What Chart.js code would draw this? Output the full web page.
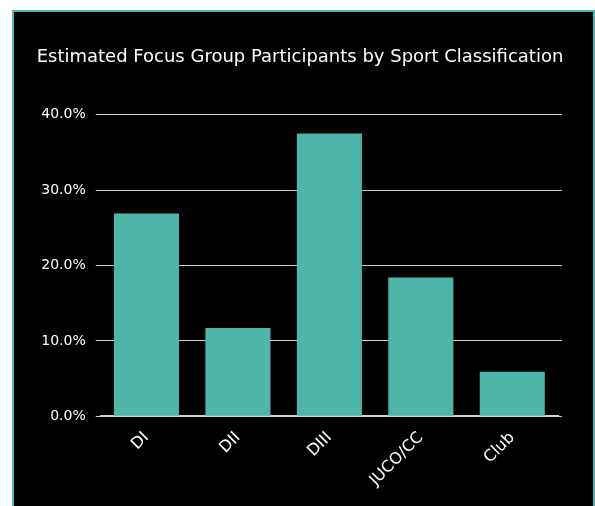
<!DOCTYPE html>
<html>
<head>
<meta charset="utf-8">
<script src="https://cdn.jsdelivr.net/npm/chart.js@4"></script>
<style>
  html, body { margin: 0; padding: 0; background: #ffffff; width: 595px; height: 506px; overflow: hidden; }
  #panel { position: absolute; left: 12px; top: 10px; width: 579px; height: 510px; background: #000; border: 2px solid #4DB6A7; }
  #wrap { position: absolute; left: 0; top: 0; width: 579px; height: 494px; }
</style>
</head>
<body>
<div id="panel"><div id="wrap"><canvas id="c"></canvas></div></div>
<script>
const categories = ["DI", "DII", "DIII", "JUCO/CC", "Club"];
const participantShare = [26.9, 11.7, 37.5, 18.4, 5.9];
const yTickValues = [0, 10, 20, 30, 40];
const chartTitle = "Estimated Focus Group Participants by Sport Classification";

const TITLE_FONT = "'DejaVu Sans', sans-serif";
const TICK_FONT = "'DejaVu Sans', sans-serif";
const GRID = "#cfcfcf";

const gridExtend = {
  id: 'gridExtend',
  afterDraw(chart) {
    const y = chart.scales.y, ctx = chart.ctx, r = chart.chartArea.right;
    ctx.save();
    ctx.strokeStyle = GRID;
    ctx.lineWidth = 1;
    y.ticks.forEach(t => {
      const py = Math.round(y.getPixelForValue(t.value) - 0.5) + 0.5;
      ctx.beginPath();
      ctx.moveTo(r - 1, py);
      ctx.lineTo(r + 4, py);
      ctx.stroke();
    });
    ctx.restore();
  }
};

new Chart(document.getElementById('c'), {
  type: 'bar',
  data: {
    labels: categories,
    datasets: [{
      data: participantShare,
      backgroundColor: '#4DB6A7',
      borderWidth: 0,
      categoryPercentage: 0.8,
      barPercentage: 0.89
    }]
  },
  options: {
    responsive: true,
    maintainAspectRatio: false,
    animation: false,
    layout: { padding: { left: 0, right: 7, top: 0, bottom: 0 } },
    plugins: {
      legend: { display: false },
      tooltip: { enabled: false },
      title: {
        display: true,
        text: chartTitle,
        color: '#ffffff',
        font: { family: TITLE_FONT, size: 18, weight: 'normal' },
        padding: { top: 35, bottom: 46 }
      }
    },
    scales: {
      x: {
        grid: { display: false },
        border: { display: true, color: GRID, width: 2 },
        ticks: {
          color: '#ffffff',
          font: { family: TICK_FONT, size: 16 },
          minRotation: 45,
          maxRotation: 45,
          padding: 4
        },
        afterFit(s) { s.height = 89.7; }
      },
      y: {
        min: 0,
        max: 40,
        afterBuildTicks(s) { s.ticks = yTickValues.map(v => ({ value: v })); },
        grid: { color: GRID, lineWidth: 1, drawTicks: true, tickLength: 5 },
        border: { display: false },
        ticks: {
          color: '#ffffff',
          font: { family: TICK_FONT, size: 14 },
          padding: 10,
          callback: v => Number(v).toFixed(1) + '%'
        },
        afterFit(s) { s.width = 86.75; }
      },
      y2: {
        position: 'right',
        display: true,
        grid: { display: false, drawTicks: false },
        border: { display: false },
        ticks: { display: false },
        afterFit(s) { s.width = 28; }
      }
    }
  },
  plugins: [gridExtend]
});
</script>
</body>
</html>
